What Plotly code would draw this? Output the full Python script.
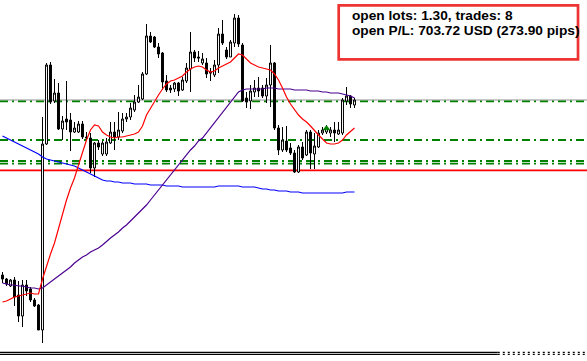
import plotly.graph_objects as go

# ---- data (price units) ----
idx = list(range(89))

opens = [125,121,114,120,105,84,115,111,100,95,
         70,256,335,299,307,271,281,280,268,268,
         276,263,262,232,257,246,246,257,268,263,
         269,281,283,290,298,301,326,364,363,353,
         347,319,312,311,317,310,319,331,348,343,
         337,337,328,325,335,366,350,343,357,382,
         355,302,299,308,312,312,304,315,337,272,
         250,259,252,247,228,253,245,268,246,253,
         267,268,267,270,266,267,299,304,295]
highs = [128,122,121,123,119,120,120,113,102,96,
         283,337,338,321,317,284,319,287,278,279,
         279,268,267,258,260,259,262,278,278,288,
         287,287,297,305,315,328,376,368,364,357,
         348,325,315,318,318,323,337,368,350,349,
         347,342,332,340,372,380,353,360,386,385,
         357,308,315,320,323,315,322,355,338,275,
         273,274,257,250,255,258,270,270,267,270,
         273,275,273,278,278,302,313,305,302]
lows = [117,114,113,94,78,73,104,98,93,70,
        57,255,296,297,270,260,270,249,267,267,
        261,260,227,223,250,244,244,256,250,260,
        267,278,280,288,297,300,325,357,352,342,
        310,308,307,308,304,309,317,308,338,338,
        335,322,319,323,327,355,341,343,353,353,
        298,292,291,303,303,302,297,293,270,245,
        248,248,245,227,227,240,244,231,231,252,
        265,266,263,258,265,265,295,292,292]
closes = [121,116,120,103,84,115,109,100,94,70,
          256,335,298,307,271,279,278,268,272,276,
          263,262,232,257,253,257,258,268,263,270,
          281,283,292,298,303,326,364,358,353,346,
          318,310,310,317,309,320,332,348,342,342,
          341,326,327,335,366,357,343,358,382,356,
          299,298,309,312,309,304,315,337,272,250,
          260,250,247,228,253,242,268,247,254,267,
          270,272,270,267,270,300,304,296,300]

ma_fast = [98,99,101,103,104,105,106,107,106,106,
           121,134,146,157,172,187,200,212,222,235,
           248,260,270,275,274,268,265,263,262,263,
           263,264,265,266,268,274,285,292,299,305,
           311,316,319,320,322,324,328,331,333,334,
           333,330,328,329,332,334,336,338,342,346,
           345,341,337,335,333,332,331,330,326,320,
           312,303,296,290,285,281,278,274,269,265,
           261,257,256,256,257,260,265,269,272]
ma_mid = [117,116,115,115,114,114,113,112,112,111,
          112,115,118,121,124,127,130,133,137,140,
          143,145,148,150,152,155,159,162,165,168,
          172,175,179,183,186,190,195,200,205,211,
          216,221,226,231,236,241,246,250,254,259,
          262,267,272,277,282,287,292,297,303,308,
          310,311,311,311,311,311,312,312,312,311,
          311,311,311,310,310,310,310,309,309,309,
          308,308,307,307,307,306,305,304,302]
ma_slow = [264,262,260,258,256,254,252,250,248,246,
           243,241,240,239,238,237,236,235,234,232,
           230,228,226,224,222,220,219,219,218,218,
           217,217,217,216,216,216,216,215,215,215,
           215,214,214,214,214,213,213,213,213,213,
           213,213,213,213,214,214,214,214,214,214,
           213,213,213,213,212,211,211,210,210,209,
           209,209,208,208,208,207,207,207,207,207,
           207,207,207,207,207,207,208,208,208]

gray_level = [300.0]
green_levels = [298.6, 260.0, 239.0, 236.3]
red_level = [229.7]

trade_idx = [81]
trade_price = [271.5]

info_lines = ["open lots: 1.30, trades: 8",
              "open P/L: 703.72 USD (273.90 pips)"]

# ---- figure ----
fig = go.Figure()

fig.add_trace(go.Candlestick(
    x=idx, open=opens, high=highs, low=lows, close=closes,
    increasing=dict(line=dict(color="black", width=1), fillcolor="white"),
    decreasing=dict(line=dict(color="black", width=1), fillcolor="black"),
    hoverinfo="skip", showlegend=False))

fig.add_trace(go.Scatter(x=idx, y=ma_slow, mode="lines",
                         line=dict(color="#0000ff", width=1.2), showlegend=False))
fig.add_trace(go.Scatter(x=idx, y=ma_mid, mode="lines",
                         line=dict(color="#4b0090", width=1.2), showlegend=False))
fig.add_trace(go.Scatter(x=idx, y=ma_fast, mode="lines",
                         line=dict(color="#ff0000", width=1.2), showlegend=False))
fig.add_trace(go.Scatter(x=trade_idx, y=trade_price, mode="markers",
                         marker=dict(symbol="triangle-up", size=7, color="#008000"),
                         showlegend=False))

shapes = []
for lv in gray_level:
    shapes.append(dict(type="line", xref="paper", yref="y", x0=0, x1=1, y0=lv, y1=lv,
                       line=dict(color="#b4b4b4", width=1.5), layer="below"))
for lv in green_levels:
    shapes.append(dict(type="line", xref="paper", yref="y", x0=0, x1=1, y0=lv, y1=lv,
                       line=dict(color="#008000", width=1.8, dash="8px,4px,2px,4px"),
                       layer="below"))
for lv in red_level:
    shapes.append(dict(type="line", xref="paper", yref="y", x0=0, x1=1, y0=lv, y1=lv,
                       line=dict(color="#ff0000", width=1.8), layer="below"))

# bottom double separator
for yy in (0.0241, 0.0186):
    shapes.append(dict(type="line", xref="paper", yref="paper", x0=0, x1=0.848,
                       y0=yy, y1=yy, line=dict(color="black", width=1.2)))
    shapes.append(dict(type="line", xref="paper", yref="paper", x0=0.848, x1=1,
                       y0=yy, y1=yy, line=dict(color="black", width=1.2, dash="2px,3px")))

# info box
shapes.append(dict(type="rect", xref="paper", yref="paper",
                   x0=0.5770, x1=0.9847, y0=0.8357, y1=0.9853,
                   line=dict(color="#ee3333", width=2.7), fillcolor="rgba(0,0,0,0)"))

annotations = []
for k, txt in enumerate(info_lines):
    annotations.append(dict(xref="paper", yref="paper", x=0.5963,
                            y=[0.9584, 0.9150][k], xanchor="left", yanchor="middle",
                            text="<b>" + txt + "</b>", showarrow=False,
                            font=dict(family="Liberation Sans, Arial", size=13.7, color="black")))

fig.update_layout(
    width=587, height=361,
    margin=dict(l=0, r=0, t=0, b=0),
    paper_bgcolor="white", plot_bgcolor="white",
    showlegend=False,
    xaxis=dict(visible=False, range=[-0.625, 146.125], rangeslider=dict(visible=False),
               fixedrange=True),
    yaxis=dict(visible=False, range=[39, 400], fixedrange=True),
    shapes=shapes, annotations=annotations,
)

fig.write_html("out.html", config={"displayModeBar": False},
               post_script="document.body.style.margin='0';document.body.style.overflow='hidden';")
